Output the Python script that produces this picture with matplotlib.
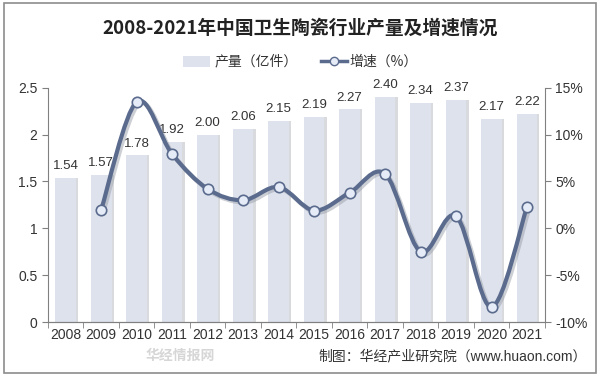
import matplotlib
matplotlib.use("Agg")
import matplotlib.pyplot as plt
from matplotlib.path import Path
from matplotlib.patches import PathPatch, Rectangle
import matplotlib.transforms as mtransforms
import numpy as np

plt.rcParams['font.family'] = ['Liberation Sans', 'Noto Sans CJK SC', 'DejaVu Sans']

years = ["2008", "2009", "2010", "2011", "2012", "2013", "2014",
         "2015", "2016", "2017", "2018", "2019", "2020", "2021"]
output = [1.54, 1.57, 1.78, 1.92, 2.00, 2.06, 2.15,
          2.19, 2.27, 2.40, 2.34, 2.37, 2.17, 2.22]
growth_years = years[1:]
growth = [2.0, 13.5, 7.9, 4.2, 3.0, 4.4, 1.9, 3.8, 5.8, -2.5, 1.3, -8.4, 2.3]

BAR = "#dde2ec"
SHADOW = "#b9bcc2"
LINE = "#5b6b8e"
MARK = "#e6ecf7"

fig = plt.figure(figsize=(6, 3.78), dpi=100)
fig.patches.append(Rectangle((0.006, 0.013), 0.988, 0.978, transform=fig.transFigure,
                             fill=False, edgecolor="#8c8c8c", linewidth=1.2))

ax = fig.add_axes([0.08, 0.148, 0.828, 0.62])
ax2 = ax.twinx()

x = np.arange(len(years))
w = 0.58
# soft shadow to the right of each bar
ax.bar(x + 0.06, output, width=w, color=SHADOW, alpha=0.55, zorder=1)
ax.bar(x, output, width=w, color=BAR, zorder=2)
for xi, v in zip(x, output):
    ax.text(xi, v + 0.06, f"{v:.2f}", ha="center", va="bottom",
            fontsize=9.5, color="#333333")

ax.set_xlim(-0.5, len(years) - 0.5)
ax.set_ylim(0, 2.5)
ax.set_yticks([0, 0.5, 1, 1.5, 2, 2.5])
ax.set_yticklabels(["0", "0.5", "1", "1.5", "2", "2.5"])
ax.set_xticks(x)
ax.set_xticklabels(years)

# smooth growth curve (Catmull-Rom through the points)
gx = np.array([years.index(y) for y in growth_years], dtype=float)
gy = np.array(growth, dtype=float)
verts = [(gx[0], gy[0])]
codes = [Path.MOVETO]
n = len(gx)
for i in range(n - 1):
    p0 = (gx[max(i - 1, 0)], gy[max(i - 1, 0)])
    p1 = (gx[i], gy[i])
    p2 = (gx[i + 1], gy[i + 1])
    p3 = (gx[min(i + 2, n - 1)], gy[min(i + 2, n - 1)])
    c1 = (p1[0] + (p2[0] - p0[0]) / 6, p1[1] + (p2[1] - p0[1]) / 6)
    c2 = (p2[0] - (p3[0] - p1[0]) / 6, p2[1] - (p3[1] - p1[1]) / 6)
    verts += [c1, c2, p2]
    codes += [Path.CURVE4] * 3
path = Path(verts, codes)
shadow_tr = ax2.transData + mtransforms.ScaledTranslation(1.5 / 72, -1.5 / 72, fig.dpi_scale_trans)
ax2.add_patch(PathPatch(path, facecolor="none", edgecolor="#9aa0aa", lw=3.2,
                        alpha=0.5, zorder=3, transform=shadow_tr))
ax2.add_patch(PathPatch(path, facecolor="none", edgecolor=LINE, lw=3, zorder=4))
ax2.plot(gx, gy, linestyle="none", marker="o", markersize=7.5,
         markerfacecolor=MARK, markeredgecolor=LINE, markeredgewidth=1.2, zorder=5)

ax2.set_ylim(-10, 15)
ax2.set_yticks([-10, -5, 0, 5, 10, 15])
ax2.set_yticklabels(["-10%", "-5%", "0%", "5%", "10%", "15%"])

for a in (ax, ax2):
    a.spines["top"].set_visible(False)
    for s in ("left", "right", "bottom"):
        a.spines[s].set_color("#808080")
    a.tick_params(labelsize=10, colors="#808080", labelcolor="#333333", length=4)
ax.spines["right"].set_visible(False)
ax2.spines["left"].set_visible(False)
ax.set_xticks(np.arange(-0.5, len(years), 1), minor=True)
ax.tick_params(axis="x", which="major", length=0, pad=4)
ax.tick_params(axis="x", which="minor", length=4, direction="out", colors="#808080")

fig.text(0.5, 0.925, "2008-2021年中国卫生陶瓷行业产量及增速情况", ha="center", va="center",
         fontsize=13.5, fontweight="bold", color="#222222", family=["Noto Sans CJK SC"])

# legend
lx = 0.305
fig.patches.append(Rectangle((lx, 0.823), 0.045, 0.03, transform=fig.transFigure,
                             facecolor=BAR, edgecolor="none"))
fig.text(lx + 0.053, 0.838, "产量（亿件）", ha="left", va="center", fontsize=10,
         color="#333333", family=["Noto Sans CJK SC"])
fig.lines.append(plt.Line2D([0.535, 0.578], [0.838, 0.838], transform=fig.transFigure,
                            color=LINE, lw=2.5))
fig.lines.append(plt.Line2D([0.5565], [0.838], transform=fig.transFigure, color=LINE,
                            marker="o", markersize=6, markerfacecolor=MARK,
                            markeredgecolor=LINE, linestyle="none"))
fig.text(0.582, 0.838, "增速（%）", ha="left", va="center", fontsize=10,
         color="#333333", family=["Noto Sans CJK SC"])

fig.text(0.978, 0.058, "制图：华经产业研究院（www.huaon.com）", ha="right", va="center",
         fontsize=10, color="#333333", family=["Liberation Sans", "Noto Sans CJK SC"])
# faint watermark, kept in the empty space left of the source note
fig.text(0.30, 0.058, "华经情报网", ha="center", va="center", fontsize=10,
         color="#999999", alpha=0.4, family=["Noto Sans CJK SC"], fontweight="bold")

fig.savefig("out.png", dpi=100)
